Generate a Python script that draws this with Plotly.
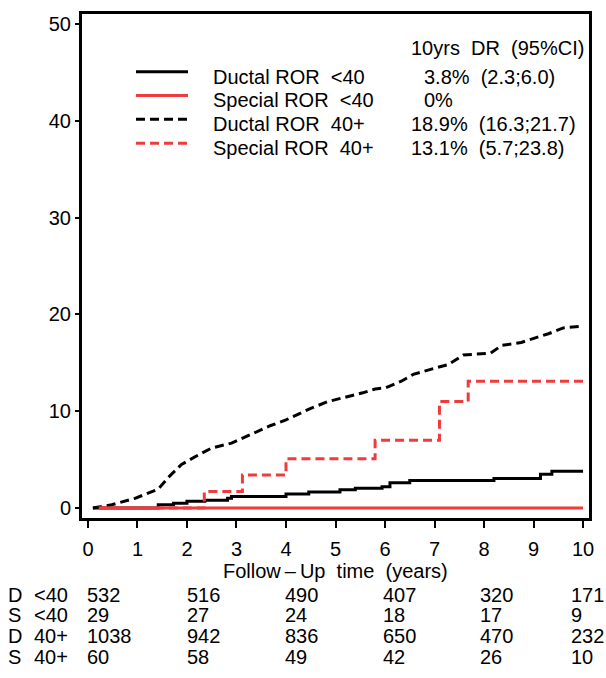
import plotly.graph_objects as go

# ---------------- data ----------------
ductal_lt40_t = [0.1, 1.42, 1.73, 2.0, 2.36, 2.82, 2.9, 4.0, 4.46, 5.09, 5.4, 5.94, 6.1, 6.5, 8.2, 9.14, 9.37, 10.0]
ductal_lt40_y = [0, 0.34, 0.5, 0.7, 0.8, 1.0, 1.2, 1.44, 1.65, 1.88, 2.05, 2.2, 2.6, 2.85, 3.05, 3.5, 3.8, 3.8]

special_lt40_t = [0.22, 10.0]
special_lt40_y = [0, 0]

ductal_40p_t = [0.1, 0.48, 0.95, 1.42, 1.65, 1.89, 2.2, 2.5, 2.9, 3.3, 3.68, 4.0, 4.3, 4.5, 4.85,
                5.24, 5.55, 5.8, 6.0, 6.33, 6.57, 7.04, 7.27, 7.58, 8.13, 8.36, 8.75, 8.99, 9.3, 9.6, 10.0]
ductal_40p_y = [0, 0.34, 1.0, 1.95, 3.3, 4.5, 5.4, 6.2, 6.7, 7.6, 8.5, 9.1, 9.8, 10.3, 11.0,
                11.5, 11.9, 12.3, 12.4, 13.1, 13.8, 14.5, 14.8, 15.8, 16.0, 16.8, 17.1, 17.5, 18.0, 18.6, 18.8]

special_40p_t = [0.22, 2.35, 3.12, 4.0, 5.8, 7.1, 7.68, 10.0]
special_40p_y = [0, 1.7, 3.4, 5.1, 7.0, 11.0, 13.1, 13.1]

legend_names = ["Ductal ROR\u00a0 <40", "Special ROR\u00a0 <40", "Ductal ROR\u00a0 40+", "Special ROR\u00a0 40+"]
legend_values = ["3.8%\u00a0 (2.3;6.0)", "0%", "18.9%\u00a0 (16.3;21.7)", "13.1%\u00a0 (5.7;23.8)"]
legend_header = "10yrs\u00a0 DR\u00a0 (95%CI)"

x_ticks = list(range(0, 11))
y_ticks = [0, 10, 20, 30, 40, 50]

risk_times = [0, 2, 4, 6, 8, 10]
risk_groups = ["D", "S", "D", "S"]
risk_ages = ["<40", "<40", "40+", "40+"]
risk_counts = [
    [532, 516, 490, 407, 320, 171],
    [29, 27, 24, 18, 17, 9],
    [1038, 942, 836, 650, 470, 232],
    [60, 58, 49, 42, 26, 10],
]

# ---------------- style ----------------
BLACK = "#000000"
RED = "#ef3b3b"
FONT = "Liberation Sans, Arial, sans-serif"
FS = 20

styles = [
    dict(color=BLACK, dash="solid", width=3),
    dict(color=RED, dash="solid", width=3),
    dict(color=BLACK, dash="9px,5px", width=3),
    dict(color=RED, dash="9px,5px", width=3),
]

fig = go.Figure()
# draw order: black dashed, black solid, red dashed, red solid
fig.add_trace(go.Scatter(x=ductal_40p_t, y=ductal_40p_y, mode="lines", line=styles[2], showlegend=False, hoverinfo="skip"))
fig.add_trace(go.Scatter(x=ductal_lt40_t, y=ductal_lt40_y, mode="lines", line=dict(**styles[0], shape="hv"), showlegend=False, hoverinfo="skip"))
fig.add_trace(go.Scatter(x=special_40p_t, y=special_40p_y, mode="lines", line=dict(**styles[3], shape="hv"), showlegend=False, hoverinfo="skip"))
fig.add_trace(go.Scatter(x=special_lt40_t, y=special_lt40_y, mode="lines", line=styles[1], showlegend=False, hoverinfo="skip"))

# plot area in pixels
L, R, T, B = 82, 589, 11, 518
W, H = R - L, B - T


def px(xp):
    return (xp - L) / W


def py(yp):
    return (B - yp) / H


annotations = []
shapes = []

# manual legend
sample_y = [69, 93, 117, 141]
text_y = [74, 98, 122, 146]
value_x = [421.7, 421.7, 409, 409]
for i in range(4):
    shapes.append(dict(type="line", xref="paper", yref="paper",
                       x0=px(136), x1=px(188), y0=py(sample_y[i]), y1=py(sample_y[i]),
                       line=dict(color=styles[i]["color"], width=3, dash=styles[i]["dash"])))
    annotations.append(dict(text=legend_names[i], xref="paper", yref="paper", x=px(211), y=py(text_y[i]),
                            xanchor="left", yanchor="middle", showarrow=False,
                            font=dict(family=FONT, size=FS, color=BLACK)))
    annotations.append(dict(text=legend_values[i], xref="paper", yref="paper", x=px(value_x[i]), y=py(text_y[i]),
                            xanchor="left", yanchor="middle", showarrow=False,
                            font=dict(family=FONT, size=FS, color=BLACK)))
annotations.append(dict(text=legend_header, xref="paper", yref="paper", x=px(409), y=py(45),
                        xanchor="left", yanchor="middle", showarrow=False,
                        font=dict(family=FONT, size=FS, color=BLACK)))

# x axis title
annotations.append(dict(text="Follow\u2009\u2013\u2009Up\u00a0 time\u00a0 (years)", xref="x", yref="paper", x=5, y=py(571),
                        xanchor="center", yanchor="middle", showarrow=False,
                        font=dict(family=FONT, size=FS, color=BLACK)))

# risk table
row_y = [595, 616, 637, 658]
col_shift = [-3, -2, -3, -4, -6, -14]
for r in range(4):
    annotations.append(dict(text=risk_groups[r], xref="paper", yref="paper", x=px(6), y=py(row_y[r]),
                            xanchor="left", yanchor="middle", showarrow=False,
                            font=dict(family=FONT, size=FS, color=BLACK)))
    annotations.append(dict(text=risk_ages[r], xref="paper", yref="paper", x=px(32), y=py(row_y[r]),
                            xanchor="left", yanchor="middle", showarrow=False,
                            font=dict(family=FONT, size=FS, color=BLACK)))
    for c, t in enumerate(risk_times):
        annotations.append(dict(text=str(risk_counts[r][c]), xref="x", yref="paper", x=t, y=py(row_y[r]),
                                xanchor="left", yanchor="middle", xshift=col_shift[c], showarrow=False,
                                font=dict(family=FONT, size=FS, color=BLACK)))

fig.update_layout(
    width=606, height=678,
    margin=dict(l=L, r=606 - R, t=T, b=678 - B, pad=0),
    paper_bgcolor="white", plot_bgcolor="white",
    font=dict(family=FONT, size=FS, color=BLACK),
    showlegend=False,
    annotations=annotations,
    shapes=shapes,
    xaxis=dict(range=[-0.12, 10.12], tickmode="array", tickvals=x_ticks, ticktext=[str(v) for v in x_ticks],
               ticks="outside", ticklen=7, tickwidth=1.5, tickcolor=BLACK,
               showline=True, linewidth=3, linecolor=BLACK, mirror=True,
               showgrid=False, zeroline=False, ticklabelstandoff=4,
               tickfont=dict(family=FONT, size=FS, color=BLACK)),
    yaxis=dict(range=[-1.03, 51.03], tickmode="array", tickvals=y_ticks, ticktext=[str(v) for v in y_ticks],
               ticks="outside", ticklen=4, tickwidth=1.5, tickcolor=BLACK,
               showline=True, linewidth=3, linecolor=BLACK, mirror=True,
               showgrid=False, zeroline=False,
               tickfont=dict(family=FONT, size=FS, color=BLACK)),
)

fig.write_html("out.html", config={"displayModeBar": False},
               post_script="document.body.style.margin='0';document.body.style.overflow='hidden';")
